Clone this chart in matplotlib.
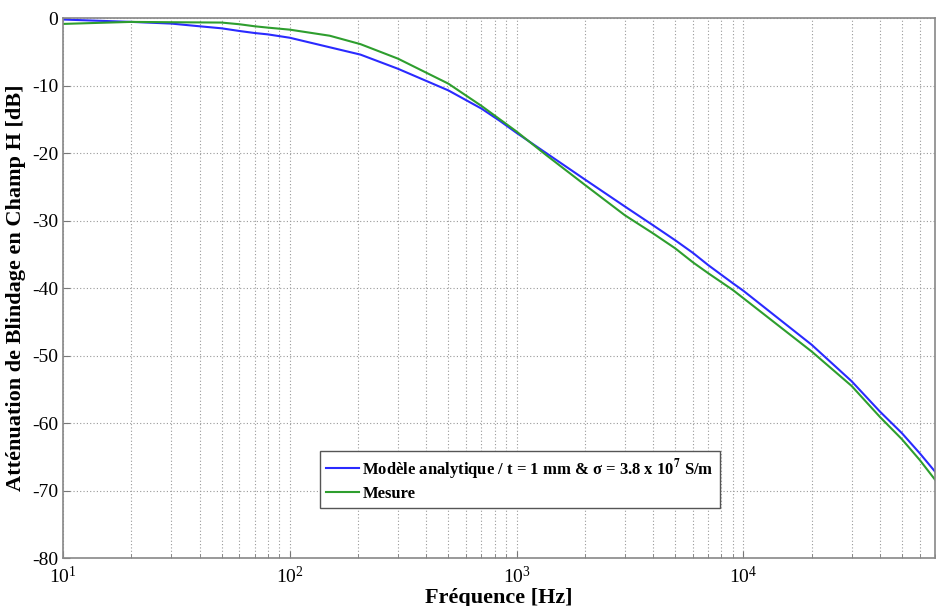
import matplotlib
matplotlib.use("Agg")
import matplotlib.pyplot as plt
import numpy as np

freq_model = [10, 20, 30, 40, 50, 60, 70, 80, 100, 205, 300, 500, 700, 842, 1000, 1352,
              2000, 3000, 4000, 5000, 6000, 7000, 9000, 10000, 20000, 30000, 40000,
              50000, 60000, 70000]
att_model = [-0.2, -0.55, -0.8, -1.2, -1.5, -1.9, -2.2, -2.4, -2.9, -5.4, -7.5, -10.7, -13.4, -15.2,
             -17.0, -20.0, -23.9, -27.9, -30.7, -32.9, -34.8, -36.6, -39.3, -40.4, -48.4,
             -53.8, -58.3, -61.5, -64.5, -67.2]

freq_meas = [10, 20, 30, 50, 60, 70, 80, 100, 150, 205, 300, 500, 700, 1000, 1352, 2000,
             3000, 4000, 5000, 6000, 7000, 9000, 10000, 20000, 30000, 40000, 50000, 60000,
             70000]
att_meas = [-0.85, -0.55, -0.6, -0.65, -0.9, -1.2, -1.4, -1.7, -2.6, -3.85, -6.0, -9.7, -13.0,
            -16.8, -20.3, -24.7, -29.2, -31.9, -34.1, -36.2, -37.8, -40.3, -41.5, -49.4,
            -54.5, -59.1, -62.4, -65.5, -68.4]

plt.rcParams['font.family'] = ['Liberation Serif', 'DejaVu Serif']
plt.rcParams['mathtext.fontset'] = 'stix'
plt.rcParams['axes.unicode_minus'] = False

fig = plt.figure(figsize=(9.36, 6.06), dpi=100)
ax = fig.add_axes([0.0673, 0.0792, 0.9317, 0.8908])

ax.semilogx(freq_model, att_model, color='#2a2aff', lw=1.5,
            label=r'Modèle analytique / t = 1 mm & σ = 3.8 x 10$^{\mathbf{7}}$ S/m')
ax.semilogx(freq_meas, att_meas, color='#2e9e2e', lw=1.5, label='Mesure')

ax.set_xlim(10, 7e4)
ax.set_ylim(-80, 0)
ax.set_yticks(np.arange(-80, 1, 10))
ax.grid(True, which='major', ls=(0, (1, 2)), color='#999999', lw=0.8)
ax.grid(True, which='minor', axis='x', ls=(0, (1, 2)), color='#999999', lw=0.8)
ax.tick_params(which='both', direction='in', labelsize=14, color='#777777')
ax.tick_params(which='major', length=5)
ax.tick_params(which='minor', length=3)
ax.tick_params(axis='x', pad=6)
for s in ax.spines.values():
    s.set_color('#888888')
    s.set_linewidth(1.2)

ax.set_xlabel('Fréquence [Hz]', fontsize=16, fontweight='bold', labelpad=0)
ax.set_ylabel('Atténuation de Blindage en Champ H [dB]', fontsize=16, fontweight='bold', labelpad=4)

leg = ax.legend(loc='lower left', bbox_to_anchor=(0.285, 0.078),
                prop={'weight': 'bold', 'size': 12}, handlelength=2.0, handletextpad=0.2,
                borderpad=0.35, labelspacing=0.25, fancybox=False, framealpha=1)
leg.get_frame().set_edgecolor('#555555')
leg.get_frame().set_linewidth(1.0)

fig.savefig('out.png', dpi=100)
